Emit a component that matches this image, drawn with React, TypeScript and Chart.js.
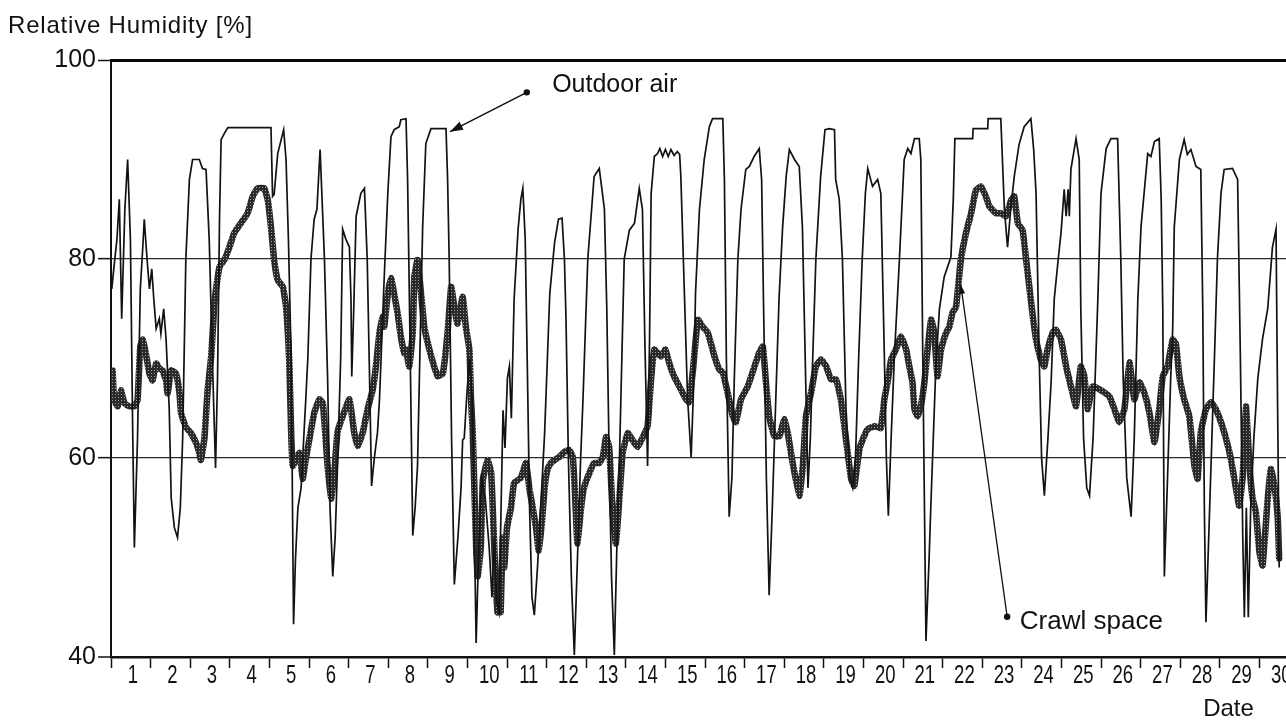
import { useEffect, useRef } from 'react';
import { Chart, registerables } from 'chart.js';

Chart.register(...registerables);

// ---------- data (x in days since start of day 1, y in % RH) ----------
const outdoorDays = [
  0.02, 0.07, 0.15, 0.21, 0.27, 0.35, 0.42, 0.49, 0.55, 0.59, 0.67, 0.74, 0.8, 0.84, 0.91, 0.97,
  1.03, 1.08, 1.14, 1.22, 1.26, 1.33, 1.39, 1.47, 1.52, 1.6, 1.68, 1.75, 1.81, 1.89, 1.98,
  2.06, 2.23, 2.31, 2.4, 2.48, 2.57, 2.64, 2.69, 2.74, 2.78, 2.86, 2.95, 3.5,
  4.04, 4.08, 4.12, 4.21, 4.36, 4.42, 4.48, 4.55, 4.61, 4.66, 4.72, 4.8, 4.92, 4.97,
  5.05, 5.13, 5.2, 5.28, 5.39, 5.47, 5.53, 5.6, 5.66, 5.72, 5.8, 5.85, 5.93,
  6.02, 6.06, 6.08, 6.13, 6.19, 6.31, 6.4, 6.47, 6.52, 6.58, 6.65, 6.73, 6.78, 6.9, 6.99,
  7.07, 7.15, 7.28, 7.32, 7.45, 7.49, 7.55, 7.62, 7.68, 7.74, 7.83, 7.87, 7.95,
  8.08, 8.46, 8.5, 8.54, 8.6, 8.67, 8.76, 8.84, 8.88, 8.92, 8.98,
  9.05, 9.12, 9.18, 9.22, 9.28, 9.36, 9.45, 9.55, 9.62, 9.68, 9.74, 9.8, 9.85, 9.9, 9.95,
  10.01, 10.06, 10.11, 10.18, 10.28, 10.35, 10.4, 10.46, 10.51, 10.57, 10.63, 10.69, 10.77, 10.85, 10.95,
  11.02, 11.08, 11.2, 11.3, 11.39, 11.45, 11.49, 11.55, 11.63, 11.7, 11.78, 11.86, 11.92,
  12.04, 12.2, 12.33, 12.46, 12.52, 12.58, 12.64, 12.71, 12.78, 12.84, 12.9, 12.96,
  13.09, 13.22, 13.34, 13.42, 13.48, 13.55, 13.6, 13.64, 13.72, 13.8, 13.86, 13.93,
  14.0, 14.07, 14.14, 14.22, 14.3, 14.36, 14.39, 14.48, 14.56, 14.65, 14.72, 14.76, 14.86, 14.98,
  15.11, 15.19, 15.45, 15.49, 15.54, 15.61, 15.68, 15.74, 15.83, 15.91,
  16.03, 16.12, 16.24, 16.37, 16.43, 16.48, 16.55, 16.62, 16.7, 16.78, 16.87, 16.96,
  17.05, 17.13, 17.26, 17.38, 17.46, 17.52, 17.6, 17.66, 17.72, 17.8, 17.92,
  18.03, 18.14, 18.27, 18.3, 18.39, 18.47, 18.56, 18.66, 18.73, 18.8, 18.88, 18.97,
  19.05, 19.11, 19.23, 19.36, 19.44, 19.52, 19.58, 19.63, 19.7, 19.78, 19.91,
  20.03, 20.12, 20.2, 20.29, 20.41, 20.45, 20.5, 20.58, 20.66, 20.71, 20.83, 20.92,
  21.04, 21.21, 21.27, 21.31, 21.76, 21.77, 22.14, 22.15, 22.47, 22.56, 22.64, 22.72, 22.81, 22.93,
  23.06, 23.23, 23.3, 23.36, 23.44, 23.5, 23.57, 23.66, 23.74, 23.82, 23.92, 23.99,
  24.07, 24.12, 24.17, 24.2, 24.24, 24.37, 24.45, 24.49, 24.56, 24.64, 24.71, 24.8, 24.92,
  25.0, 25.13, 25.25, 25.42, 25.5, 25.56, 25.65, 25.76, 25.84, 25.93,
  26.01, 26.18, 26.26, 26.35, 26.47, 26.52, 26.56, 26.6, 26.68, 26.76, 26.81, 26.85, 26.98,
  27.1, 27.18, 27.27, 27.4, 27.52, 27.57, 27.61, 27.65, 27.72, 27.8, 27.88, 27.94,
  28.03, 28.11, 28.32, 28.45, 28.52, 28.58, 28.62, 28.67, 28.72, 28.78, 28.86, 28.96,
  29.08, 29.21, 29.33, 29.42, 29.46, 29.5,
];
const outdoorRH = [
  77, 79, 82, 86, 74, 85, 90, 82, 62, 51, 62, 77, 81, 84, 80, 77,
  79, 76, 73, 74, 72.5, 75, 72, 65, 56, 53, 52, 55, 62, 80, 88,
  90, 90, 89.1, 89, 82, 68.5, 59, 68, 84, 92, 92.6, 93.2, 93.2,
  93.2, 86.3, 86.5, 90.6, 93, 90, 82, 70, 43.3, 50, 55, 57, 66, 70,
  80, 84, 85, 91, 80, 68, 55, 48.1, 52, 59.2, 70, 83, 82,
  81.2, 76, 68.2, 75, 84.3, 86.6, 87.1, 80, 70, 57.2, 60, 62.6, 65.9, 78.2, 86.6,
  92.3, 93, 93.3, 94, 94.1, 88, 72, 52.2, 55, 59.2, 76, 83.2, 91.6,
  93.1, 93.1, 88, 80, 62, 47.3, 52, 57, 61.8, 62, 66,
  70, 66, 52, 41.4, 50, 58, 56, 51, 46, 52, 45.5, 44.5, 55, 64.8, 61,
  68, 69.2, 64, 76, 83, 86, 87.1, 82, 70, 55, 46, 44.2, 49, 55, 62.5,
  70, 76.5, 81.6, 84, 84.1, 80, 74, 60, 47.4, 40.2, 50, 60, 66,
  80, 88.3, 89.1, 85, 75, 60, 48, 40.2, 52, 60, 70, 80,
  82.9, 83.6, 87.1, 85, 72, 59.2, 72, 86.6, 90.3, 90.6, 91.1, 90.3,
  91, 90.3, 91, 90.4, 90.8, 90.5, 88.3, 76.5, 66, 60.1, 68, 76.5, 85, 90,
  93.3, 94.1, 94.1, 88, 70, 54.1, 58, 68, 80, 85,
  89, 89.3, 90.3, 91.1, 88, 75, 58, 46.2, 55, 65, 76, 83.2,
  88.3, 91, 90, 89.3, 83.2, 72, 57, 62, 70, 80, 88.3,
  93, 93.1, 93, 88, 86, 80, 65, 58, 57, 60, 70, 80,
  86.6, 89.1, 87.3, 88, 86.6, 72, 60, 54.2, 62, 70, 80,
  90, 91.1, 90.6, 92.1, 92.1, 90, 70, 41.6, 50, 56, 69.2, 75,
  78.2, 80.2, 86, 92.1, 92.1, 93.1, 93.1, 94.1, 94.1, 85, 81.2, 85, 88.3, 91.5,
  93.3, 94.1, 91, 86.6, 70, 60, 56.2, 62, 67.6, 76, 80, 82.6,
  87, 84.3, 87, 84.3, 89, 92.1, 90, 75, 62, 57, 56.2, 62, 75.9,
  86.6, 91.1, 92.1, 92.1, 80, 68, 58, 54.1, 62, 75.9,
  83.2, 90.6, 90.3, 91.8, 92.1, 86, 75, 48.1, 58, 68, 72.9, 83.2, 90,
  92, 90.5, 91, 89.3, 89, 75, 55, 43.5, 52, 62, 72, 80,
  86.6, 89, 89.1, 88, 70, 52, 44, 55, 44, 55, 62, 68,
  72, 75, 81.2, 83, 65, 49,
];

const crawlDays = [
  0.04, 0.08, 0.17, 0.25, 0.34, 0.46, 0.59, 0.67, 0.74, 0.8, 0.88, 0.97,
  1.05, 1.14, 1.22, 1.3, 1.39, 1.43, 1.52, 1.64, 1.73, 1.77, 1.89,
  2.02, 2.15, 2.23, 2.27, 2.36, 2.44, 2.53, 2.61, 2.65, 2.74, 2.86, 2.99,
  3.11, 3.28, 3.45, 3.58, 3.7, 3.87, 3.96,
  4.04, 4.12, 4.21, 4.34, 4.42, 4.5, 4.55, 4.59, 4.63, 4.76, 4.84, 4.92,
  5.01, 5.13, 5.26, 5.35, 5.47, 5.56, 5.64, 5.72, 5.85,
  6.02, 6.14, 6.23, 6.36, 6.48, 6.61, 6.69, 6.78, 6.86, 6.9, 6.99,
  7.07, 7.15, 7.24, 7.32, 7.41, 7.45, 7.53, 7.62, 7.66, 7.74, 7.83, 7.91,
  8.04, 8.16, 8.25, 8.38, 8.5, 8.59, 8.67, 8.75, 8.88, 8.96,
  9.05, 9.09, 9.13, 9.17, 9.22, 9.26, 9.34, 9.39, 9.51, 9.6, 9.66, 9.72, 9.76, 9.8, 9.84, 9.89, 9.93,
  10.0, 10.1, 10.18, 10.35, 10.48, 10.57, 10.65, 10.74, 10.8, 10.88, 10.95,
  11.02, 11.11, 11.2, 11.32, 11.45, 11.57, 11.66, 11.7, 11.74, 11.78, 11.87, 11.95,
  12.08, 12.2, 12.33, 12.42, 12.5, 12.58, 12.67, 12.75, 12.84, 12.92,
  13.05, 13.17, 13.3, 13.43, 13.55, 13.64, 13.72, 13.89,
  14.0, 14.1, 14.22, 14.39, 14.52, 14.6, 14.7, 14.82, 14.94,
  15.07, 15.24, 15.36, 15.45, 15.57, 15.7, 15.78, 15.91,
  16.08, 16.25, 16.37, 16.46, 16.54, 16.62, 16.75, 16.88,
  17.0, 17.09, 17.21, 17.38, 17.47, 17.55, 17.68, 17.8, 17.93,
  18.06, 18.18, 18.31, 18.43, 18.56, 18.69, 18.77, 18.9,
  19.02, 19.11, 19.28, 19.44, 19.53, 19.61, 19.7, 19.82, 19.95,
  20.08, 20.16, 20.24, 20.29, 20.37, 20.45, 20.54, 20.62, 20.71, 20.79, 20.87, 20.96,
  21.09, 21.17, 21.25, 21.34, 21.46, 21.59, 21.72, 21.84, 21.97,
  22.1, 22.18, 22.35, 22.47, 22.6, 22.73, 22.81, 22.9,
  23.02, 23.11, 23.19, 23.27, 23.36, 23.44, 23.48, 23.57, 23.65, 23.78, 23.86, 23.99,
  24.12, 24.24, 24.37, 24.49, 24.58, 24.66, 24.79, 24.96,
  25.08, 25.21, 25.34, 25.46, 25.59, 25.72, 25.84, 25.97,
  26.09, 26.22, 26.35, 26.47, 26.56, 26.68, 26.81, 26.89, 26.98,
  27.1, 27.23, 27.36, 27.44, 27.52, 27.65, 27.78, 27.9,
  28.03, 28.16, 28.28, 28.41, 28.49, 28.58, 28.66, 28.75, 28.83, 28.91,
  29.0, 29.08, 29.21, 29.29, 29.38, 29.46, 29.5,
];
const crawlRH = [
  68.8, 65.8, 65.2, 66.8, 65.5, 65.2, 65.2, 65.8, 71.2, 71.9, 70.5, 68.5,
  67.8, 69.5, 69, 68.8, 67.8, 66.5, 68.8, 68.5, 66.5, 64.5, 63.1,
  62.5, 61.5, 60.5, 59.8, 62, 66.8, 70.2, 75.5, 76.9, 79.2, 79.9, 81.2,
  82.6, 83.6, 84.6, 86.3, 87.1, 87.1, 85.9,
  83.2, 79.9, 77.9, 77.2, 75.2, 69.8, 62.5, 59.2, 59.5, 60.5, 57.9, 59.9,
  61.9, 64.5, 65.9, 65.5, 59.2, 55.9, 58.6, 62.6, 64.2,
  65.9, 62.6, 61.2, 62.6, 64.9, 66.9, 69.2, 72.6, 74.2, 73.2, 76.5,
  78.1, 76.5, 74.5, 72.2, 70.5, 70.9, 69.2, 72.6, 78.2, 79.9, 76.5, 73.2,
  70.9, 69.2, 68.2, 68.5, 72.6, 77.2, 75.2, 73.5, 76.2, 73.2,
  70.9, 66, 63, 57.8, 51.1, 48.1, 51.1, 57.8, 59.8, 58.5, 53, 47, 44.5, 48, 44.5, 52, 49,
  53, 55, 57.5, 58, 59.5, 56.8, 55, 52.8, 50.7, 53.5, 57,
  58.8, 59.5, 59.8, 60.1, 60.6, 60.8, 60.1, 57.8, 54.4, 51.4, 55, 57.1,
  58.5, 59.5, 59.5, 60.1, 62.1, 61.1, 54.4, 51.4, 56.1, 60.5,
  62.5, 61.8, 61.1, 62.1, 63.2, 68, 70.9, 70.2,
  70.9, 69.5, 68.2, 66.9, 65.9, 65.6, 69, 73.9, 73.2,
  72.6, 70.2, 68.9, 68.6, 66.6, 64.2, 63.6, 65.9,
  67.2, 69.2, 70.6, 71.2, 67.6, 64.2, 62.2, 62.2,
  63.9, 62.5, 59.6, 56.2, 59.2, 64.2, 66.6, 69.2, 69.9,
  69.2, 67.9, 67.9, 65.9, 61.9, 57.9, 57.2, 60.9,
  62.2, 62.9, 63.2, 63, 65.9, 67.6, 69.9, 70.9, 72.2,
  70.9, 69.2, 67.6, 64.9, 64.2, 65.2, 67.6, 70.9, 73.9, 72.6, 68.2, 70.9,
  72.6, 73.2, 74.6, 75.2, 79.9, 82.6, 84.6, 86.9, 87.3,
  86.2, 85.3, 84.6, 84.6, 84.3, 85.9, 86.3, 83.6,
  82.9, 79.9, 77.2, 74.5, 71.9, 70.5, 69.9, 69.2, 70.9, 72.6, 72.9, 71.9,
  69.2, 67.2, 65.2, 69.2, 68.2, 64.9, 67.2, 66.9,
  66.6, 66.2, 64.9, 63.6, 64.9, 69.6, 65.9, 67.6,
  66.6, 64.6, 61.6, 64.9, 68.2, 69.2, 71.9, 71.5, 68.2,
  65.9, 64.2, 59.2, 57.9, 62.6, 64.9, 65.6, 64.9,
  63.6, 61.9, 59.9, 56.9, 55.2, 58.2, 65.2, 59.2, 55.9, 54.6,
  50.6, 49.2, 55.9, 58.9, 57.2, 54.2, 49.9,
];

const dayLabels = [
  '1', '2', '3', '4', '5', '6', '7', '8', '9', '10', '11', '12', '13', '14', '15',
  '16', '17', '18', '19', '20', '21', '22', '23', '24', '25', '26', '27', '28', '29', '30',
];
const yTickValues = [40, 60, 80, 100];

const yAxisTitle = 'Relative Humidity [%]';
const xAxisTitle = 'Date';
const outdoorLabel = 'Outdoor air';
const crawlLabel = 'Crawl space';
// annotation anchors in data units [day, %RH]
const outdoorDot = [10.5, 96.75];
const outdoorTip = [8.56, 92.8];
const outdoorText = [11.14, 96.8];
const crawlDot = [22.63, 44.05];
const crawlTip = [21.46, 77.4];
const crawlText = [22.95, 42.85];

const FONT = "'Liberation Sans', Arial, Helvetica, sans-serif";

function makePattern(): CanvasPattern | string {
  const c = document.createElement('canvas');
  c.width = 3;
  c.height = 3;
  const g = c.getContext('2d');
  if (!g) return '#333';
  g.fillStyle = '#2a2a2a';
  g.fillRect(0, 0, 3, 3);
  g.fillStyle = '#a0a0a0';
  g.fillRect(1, 1, 1, 1);
  const p = g.createPattern(c, 'repeat');
  return p || '#333';
}

function arrowHead(ctx: CanvasRenderingContext2D, fx: number, fy: number, tx: number, ty: number, len: number, half: number) {
  const a = Math.atan2(ty - fy, tx - fx);
  ctx.beginPath();
  ctx.moveTo(tx, ty);
  ctx.lineTo(tx - len * Math.cos(a) + half * Math.sin(a), ty - len * Math.sin(a) - half * Math.cos(a));
  ctx.lineTo(tx - len * Math.cos(a) - half * Math.sin(a), ty - len * Math.sin(a) + half * Math.cos(a));
  ctx.closePath();
  ctx.fill();
}

const annotationPlugin = {
  id: 'rhAnnotations',
  afterDraw(chart: any) {
    const ctx: CanvasRenderingContext2D = chart.ctx;
    const xs = chart.scales.x;
    const ys = chart.scales.y;
    const area = chart.chartArea;
    const px = (d: number) => xs.getPixelForValue(d);
    const py = (v: number) => ys.getPixelForValue(v);
    ctx.save();
    ctx.fillStyle = '#111';
    ctx.strokeStyle = '#111';
    ctx.textBaseline = 'alphabetic';

    // condensed day labels centred between the day tick marks of the x scale
    ctx.font = `25px ${FONT}`;
    ctx.textAlign = 'center';
    dayLabels.forEach((lab, i) => {
      const w = ctx.measureText(lab).width;
      ctx.fillText(lab, px(i + 0.5) + 2, area.bottom + 26, w * 0.74);
    });

    // Y axis title
    ctx.font = `24px ${FONT}`;
    ctx.textAlign = 'left';
    try { (ctx as any).letterSpacing = '0.8px'; } catch (e) { /* ignore */ }
    ctx.fillText(yAxisTitle, area.left - 103, area.top - 27);
    try { (ctx as any).letterSpacing = '0px'; } catch (e) { /* ignore */ }

    // X axis title
    ctx.textAlign = 'center';
    ctx.font = `24px ${FONT}`;
    ctx.fillText(xAxisTitle, px(28.22), area.bottom + 59);

    // Outdoor air
    ctx.lineWidth = 1.5;
    const od = [px(outdoorDot[0]), py(outdoorDot[1])];
    const ot = [px(outdoorTip[0]), py(outdoorTip[1])];
    ctx.beginPath();
    ctx.moveTo(od[0], od[1]);
    ctx.lineTo(ot[0], ot[1]);
    ctx.stroke();
    arrowHead(ctx, od[0], od[1], ot[0], ot[1], 13, 4.5);
    ctx.beginPath();
    ctx.arc(od[0], od[1], 3.2, 0, Math.PI * 2);
    ctx.fill();
    ctx.textAlign = 'left';
    ctx.font = `25px ${FONT}`;
    ctx.fillText(outdoorLabel, px(outdoorText[0]), py(outdoorText[1]));

    // Crawl space
    const cd = [px(crawlDot[0]), py(crawlDot[1])];
    const ct = [px(crawlTip[0]), py(crawlTip[1])];
    ctx.lineWidth = 1.3;
    ctx.beginPath();
    ctx.moveTo(cd[0], cd[1]);
    ctx.lineTo(ct[0], ct[1]);
    ctx.stroke();
    arrowHead(ctx, cd[0], cd[1], ct[0], ct[1], 9, 3);
    ctx.beginPath();
    ctx.arc(cd[0], cd[1], 3.2, 0, Math.PI * 2);
    ctx.fill();
    ctx.font = `26px ${FONT}`;
    ctx.fillText(crawlLabel, px(crawlText[0]), py(crawlText[1]));
    ctx.restore();
  },
};

export default function App() {
  const canvasRef = useRef<HTMLCanvasElement | null>(null);

  useEffect(() => {
    const canvas = canvasRef.current;
    if (!canvas) return;
    const pattern = makePattern();
    const outdoorPts = outdoorDays.map((d, i) => ({ x: d, y: outdoorRH[i] }));
    const crawlPts = crawlDays.map((d, i) => ({ x: d, y: crawlRH[i] }));
    const xTickValues: number[] = [];
    for (let i = 0; i <= dayLabels.length; i++) xTickValues.push(i);

    const chart = new Chart(canvas, {
      type: 'line',
      data: {
        datasets: [
          {
            label: outdoorLabel,
            data: outdoorPts,
            borderColor: '#121212',
            borderWidth: 1.7,
            pointRadius: 0,
            tension: 0,
            fill: false,
          },
          {
            label: crawlLabel,
            data: crawlPts,
            borderColor: pattern as any,
            borderWidth: 6.5,
            pointRadius: 0,
            tension: 0.12,
            borderJoinStyle: 'round',
            borderCapStyle: 'round',
            fill: false,
          },
        ],
      },
      options: {
        responsive: false,
        maintainAspectRatio: false,
        animation: false,
        devicePixelRatio: 1,
        layout: { padding: { top: 60, left: 0, right: 1, bottom: 0 } },
        plugins: {
          legend: { display: false },
          tooltip: { enabled: false },
        },
        scales: {
          x: {
            type: 'linear',
            min: 0,
            max: 30,
            afterBuildTicks: (scale: any) => {
              scale.ticks = xTickValues.map((v) => ({ value: v }));
            },
            afterFit: (scale: any) => {
              scale.height = 64;
            },
            ticks: {
              autoSkip: false,
              maxRotation: 0,
              minRotation: 0,
              padding: 0,
              callback: () => '',
            },
            grid: {
              drawOnChartArea: false,
              drawTicks: true,
              tickLength: 11,
              tickWidth: 1.5,
              tickColor: '#111',
            },
            border: { display: true, color: '#111', width: 2.5 },
          },
          y: {
            type: 'linear',
            min: 40,
            max: 100,
            afterBuildTicks: (scale: any) => {
              scale.ticks = yTickValues.map((v) => ({ value: v }));
            },
            afterFit: (scale: any) => {
              scale.width = 111;
            },
            ticks: {
              padding: 2,
              color: '#111',
              font: { family: FONT, size: 25 },
              callback: (value: any) => String(value),
            },
            grid: {
              drawTicks: true,
              tickLength: 13,
              tickWidth: 1.5,
              tickColor: '#111',
              color: (ctx: any) => (ctx.tick && ctx.tick.value === 100 ? '#0a0a0a' : '#2a2a2a'),
              lineWidth: (ctx: any) => {
                const v = ctx.tick ? ctx.tick.value : 0;
                if (v === 100) return 3;
                if (v === 40) return 0;
                return 1.3;
              },
            },
            border: { display: true, color: '#111', width: 2 },
          },
        },
      },
      plugins: [annotationPlugin],
    });

    return () => {
      chart.destroy();
    };
  }, []);

  return (
    <div
      style={{
        position: 'fixed',
        left: 0,
        top: 0,
        width: 1286,
        height: 721,
        overflow: 'hidden',
        background: '#fff',
      }}
    >
      <canvas ref={canvasRef} width={1300} height={721} style={{ display: 'block' }} />
    </div>
  );
}
